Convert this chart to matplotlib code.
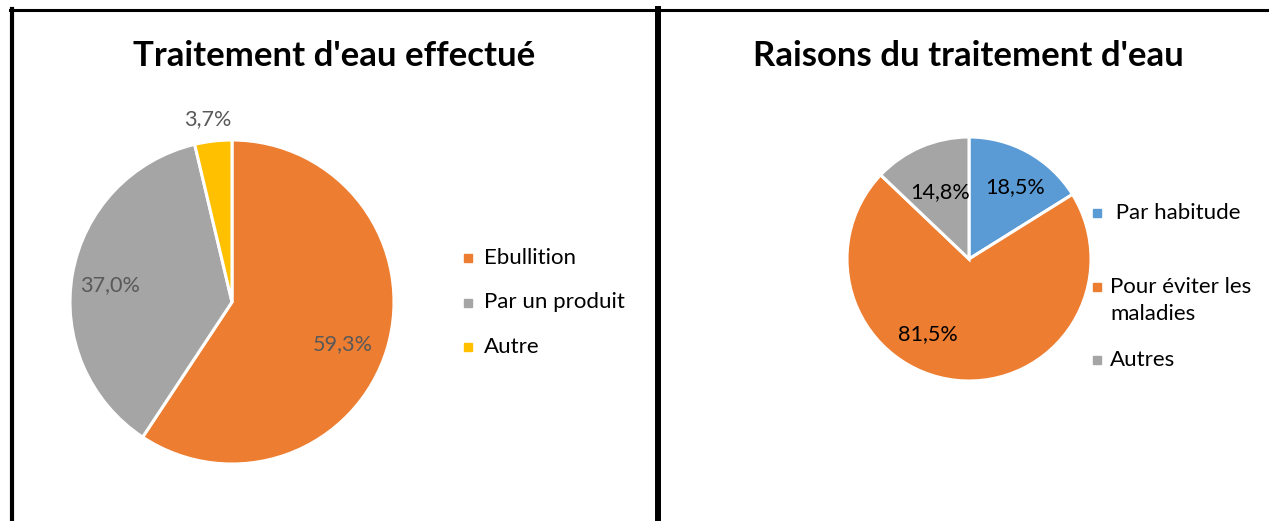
import numpy as np
import matplotlib
matplotlib.use('Agg')
import matplotlib.pyplot as plt
from matplotlib.lines import Line2D

plt.rcParams['font.family'] = ['Lato', 'DejaVu Sans']

# données
titre_gauche = "Traitement d'eau effectué"
cat_gauche = ['Ebullition', 'Par un produit', 'Autre']
val_gauche = [59.3, 37.0, 3.7]
col_gauche = ['#ED7D31', '#A5A5A5', '#FFC000']

titre_droite = "Raisons du traitement d'eau"
cat_droite = [' Par habitude', 'Pour éviter les\nmaladies', 'Autres']
val_droite = [18.5, 81.5, 14.8]
col_droite = ['#5B9BD5', '#ED7D31', '#A5A5A5']

W, H = 1269, 521
fig = plt.figure(figsize=(W / 100, H / 100), dpi=100)


def pie_axes(cx, cy, r):
    return fig.add_axes([(cx - r) / W, (H - cy - r) / H, 2 * r / W, 2 * r / H])


def fmt(v):
    return f"{v:.1f}%".replace('.', ',')


def draw_pie(ax, vals, cols, dists, offsets, txtcol):
    wedges, _ = ax.pie(vals, colors=cols, startangle=90, counterclock=False,
                       wedgeprops=dict(edgecolor='white', linewidth=2.2))
    for w, v, d, off in zip(wedges, vals, dists, offsets):
        ang = np.deg2rad((w.theta1 + w.theta2) / 2 + off)
        ax.text(d * np.cos(ang), d * np.sin(ang), fmt(v), ha='center', va='center',
                fontsize=15.6, color=txtcol)
    ax.set_xlim(-1, 1)
    ax.set_ylim(-1, 1)
    ax.axis('off')
    return wedges


# camembert gauche
ax1 = pie_axes(232, 302, 162)
w1 = draw_pie(ax1, val_gauche, col_gauche, [0.73, 0.76, 1.14], [-4, 2, 1], '#595959')
fig.text(334 / W, 1 - 56 / H, titre_gauche, ha='center', va='center',
         fontsize=25, fontweight='bold')
for i, (lab, c) in enumerate(zip(cat_gauche, col_gauche)):
    y = 258 + 44.5 * i
    fig.patches.append(plt.Rectangle((464 / W, 1 - (y + 4) / H), 8 / W, 8 / H,
                                     color=c, transform=fig.transFigure))
    fig.text(484 / W, 1 - y / H, lab, ha='left', va='center', fontsize=16)

# camembert droit
ax2 = pie_axes(969, 259, 122)
w2 = draw_pie(ax2, val_droite, col_droite, [0.70, 0.70, 0.60], [-4, -23, 0], 'black')
fig.text(968 / W, 1 - 56 / H, titre_droite, ha='center', va='center',
         fontsize=25, fontweight='bold')
ys = [213, 287, 360]
ytxt = [213, 300.5, 360]
for y, yt, lab, c in zip(ys, ytxt, cat_droite, col_droite):
    fig.patches.append(plt.Rectangle((1093 / W, 1 - (y + 4) / H), 8 / W, 8 / H,
                                     color=c, transform=fig.transFigure))
    fig.text(1110 / W, 1 - yt / H, lab, ha='left', va='center', fontsize=16,
             linespacing=1.4)

# cadres
fig.add_artist(Line2D([10 / W, 1], [1 - 10 / H] * 2, color='black', lw=2.2,
                      transform=fig.transFigure))
fig.add_artist(Line2D([12 / W] * 2, [0, 1 - 9 / H], color='black', lw=3,
                      transform=fig.transFigure))
fig.add_artist(Line2D([658 / W] * 2, [0, 1 - 9 / H], color='black', lw=4.3,
                      transform=fig.transFigure))

fig.savefig('out.png', dpi=100)
